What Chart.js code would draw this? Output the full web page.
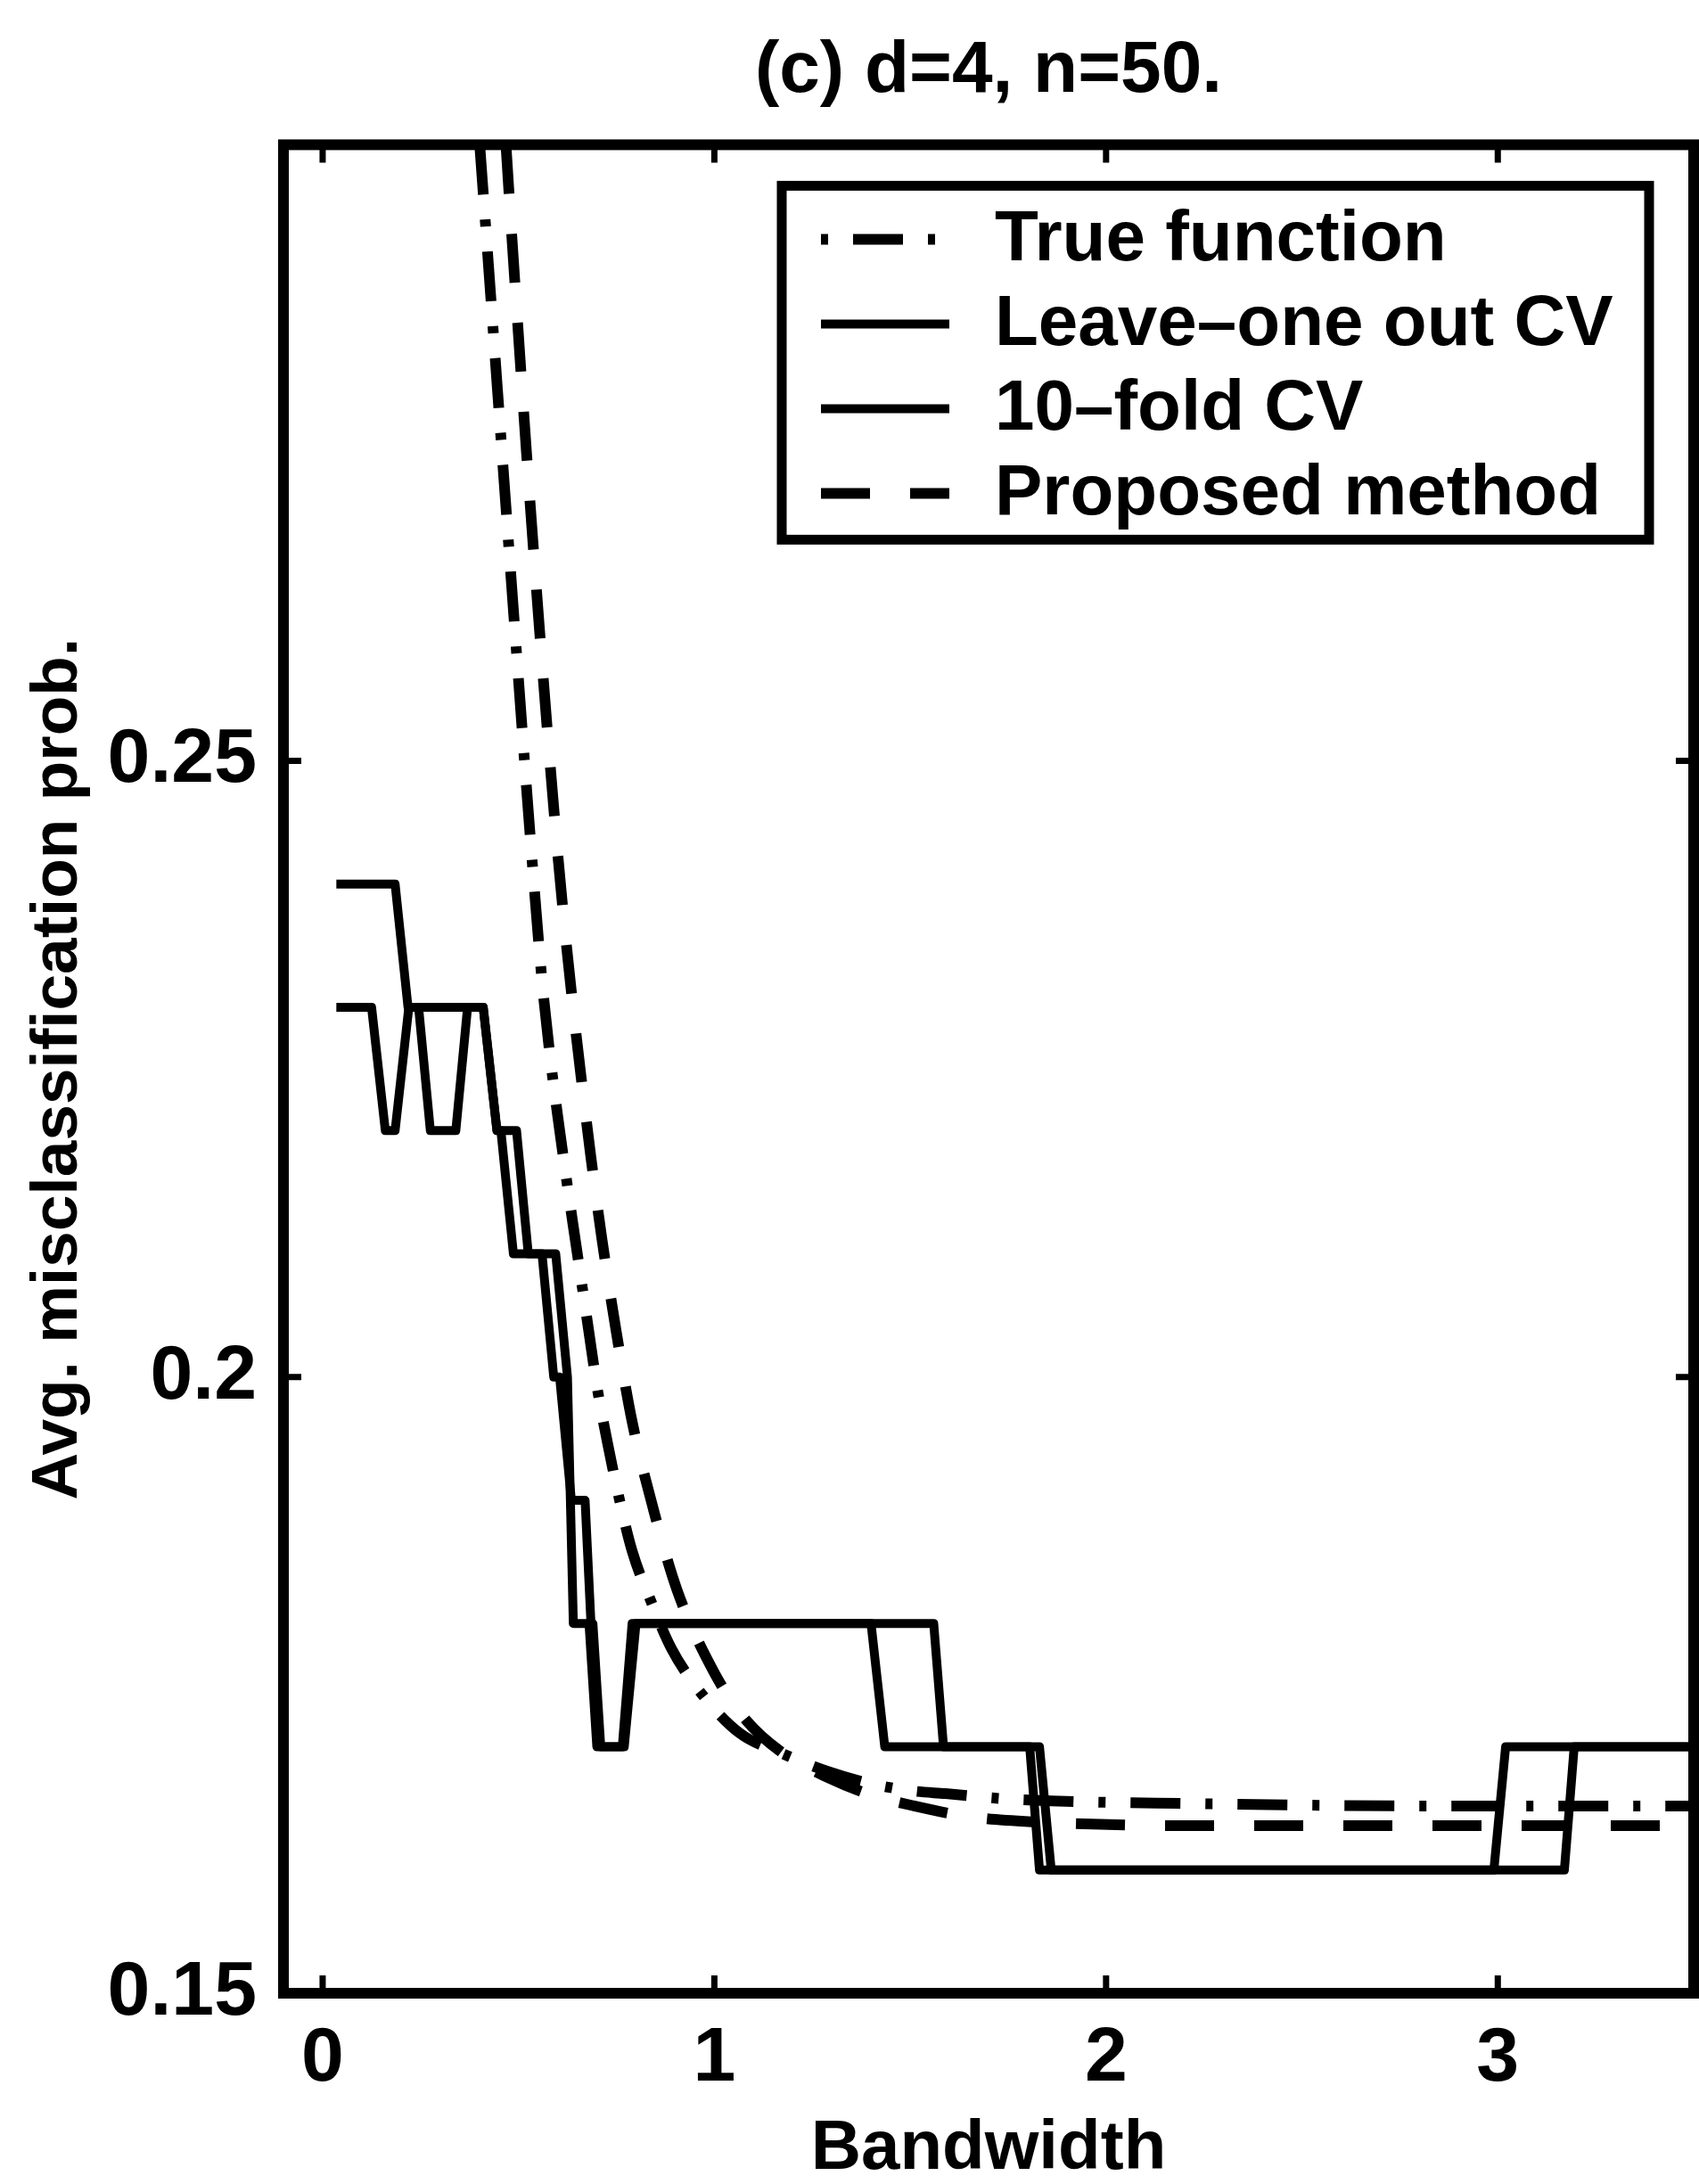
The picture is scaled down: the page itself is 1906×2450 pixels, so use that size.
<!DOCTYPE html>
<html>
<head>
<meta charset="utf-8">
<title>Avg. misclassification prob. vs bandwidth</title>
<script src="https://cdn.jsdelivr.net/npm/chart.js@4.4.1/dist/chart.umd.min.js"></script>
<style>
  html, body { margin: 0; padding: 0; background: #fff; }
  canvas { display: block; }
</style>
</head>
<body>
<canvas id="bandwidth-chart" width="1906" height="2450"></canvas>
<script>
// true misclassification curve
const trueX = [0.401, 0.420, 0.440, 0.460, 0.480, 0.500, 0.520, 0.540, 0.560, 0.580, 0.600, 0.620, 0.640, 0.660, 0.680, 0.700, 0.727, 0.756, 0.790, 0.837, 0.890, 0.970, 1.065, 1.170, 1.290, 1.400, 1.510, 1.590, 1.730, 1.860, 2.200, 2.800, 3.500];
const trueY = [0.3000, 0.2917, 0.2829, 0.2741, 0.2653, 0.2566, 0.2480, 0.2398, 0.2322, 0.2262, 0.2212, 0.2166, 0.2122, 0.2079, 0.2036, 0.1993, 0.1947, 0.1903, 0.1859, 0.1819, 0.1780, 0.1742, 0.1711, 0.1695, 0.1680, 0.1670, 0.1664, 0.1662, 0.1658, 0.1656, 0.1654, 0.1652, 0.1652];

// leave-one-out CV (corners of the step curve)
const looX = [0.035, 0.185, 0.218, 0.410, 0.445, 0.455, 0.487, 0.560, 0.590, 0.605, 0.635, 0.670, 0.685, 0.690, 0.710, 0.765, 0.790, 1.560, 1.585, 1.830, 1.860, 3.170, 3.195, 3.500];
const looY = [0.24, 0.24, 0.23, 0.23, 0.22, 0.22, 0.21, 0.21, 0.20, 0.20, 0.19, 0.19, 0.18, 0.18, 0.17, 0.17, 0.18, 0.18, 0.17, 0.17, 0.16, 0.16, 0.17, 0.17];

// 10-fold CV
const tenFoldX = [0.035, 0.125, 0.160, 0.185, 0.220, 0.245, 0.275, 0.340, 0.370, 0.410, 0.445, 0.495, 0.525, 0.595, 0.625, 0.640, 0.680, 0.700, 0.770, 0.800, 1.400, 1.435, 1.805, 1.830, 2.990, 3.020, 3.500];
const tenFoldY = [0.23, 0.23, 0.22, 0.22, 0.23, 0.23, 0.22, 0.22, 0.23, 0.23, 0.22, 0.22, 0.21, 0.21, 0.20, 0.18, 0.18, 0.17, 0.17, 0.18, 0.18, 0.17, 0.17, 0.16, 0.16, 0.17, 0.17];

// proposed method
const proposedX = [0.468, 0.480, 0.500, 0.520, 0.540, 0.560, 0.580, 0.600, 0.620, 0.640, 0.660, 0.685, 0.713, 0.750, 0.790, 0.845, 0.905, 1.000, 1.080, 1.170, 1.290, 1.400, 1.510, 1.657, 1.820, 2.200, 2.800, 3.500];
const proposedY = [0.3000, 0.2940, 0.2845, 0.2752, 0.2664, 0.2580, 0.2500, 0.2425, 0.2358, 0.2298, 0.2243, 0.2178, 0.2112, 0.2036, 0.1964, 0.1892, 0.1827, 0.1760, 0.1722, 0.1696, 0.1675, 0.1661, 0.1652, 0.1643, 0.1639, 0.1636, 0.1636, 0.1636];

const seriesLabels = ['True function', 'Leave\u2013one out CV', '10\u2013fold CV', 'Proposed method'];
const xTicks = [0, 1, 2, 3];
const yTicks = [0.15, 0.2, 0.25];

const toPoints = (xs, ys) => xs.map((x, i) => ({ x: x, y: ys[i] }));

const FONT = '"Liberation Sans", Arial, Helvetica, sans-serif';
Chart.defaults.font.family = FONT;
Chart.defaults.color = '#000';

// box frame with inward ticks on all four sides
const frameTicks = {
  id: 'frameTicks',
  afterDatasetsDraw(chart) {
    const { ctx, chartArea: a, scales: { x, y } } = chart;
    const len = 20;
    ctx.save();
    ctx.strokeStyle = '#000';
    ctx.lineWidth = 7;
    ctx.beginPath();
    xTicks.forEach(v => {
      const px = x.getPixelForValue(v);
      ctx.moveTo(px, a.bottom); ctx.lineTo(px, a.bottom - len);
      ctx.moveTo(px, a.top); ctx.lineTo(px, a.top + len);
    });
    yTicks.forEach(v => {
      const py = y.getPixelForValue(v);
      ctx.moveTo(a.left, py); ctx.lineTo(a.left + len, py);
      ctx.moveTo(a.right, py); ctx.lineTo(a.right - len, py);
    });
    ctx.stroke();
    ctx.lineWidth = 12;
    ctx.strokeRect(a.left, a.top, a.right - a.left, a.bottom - a.top);
    ctx.restore();
  }
};

// legend drawn in a framed box inside the top-right of the axes
const boxLegend = {
  id: 'boxLegend',
  afterDraw(chart, args, opts) {
    const { ctx, chartArea: a } = chart;
    const w = 973, h = 397, rowGap = 95;
    const left = a.right - 50 - w;
    const top = a.top + 46;
    ctx.save();
    ctx.fillStyle = '#fff';
    ctx.fillRect(left, top, w, h);
    ctx.strokeStyle = '#000';
    ctx.lineWidth = 11;
    ctx.strokeRect(left, top, w, h);
    ctx.font = 'bold 80px ' + FONT;
    ctx.textBaseline = 'middle';
    ctx.textAlign = 'left';
    ctx.fillStyle = '#000';
    chart.data.datasets.forEach((ds, i) => {
      const yy = top + 60 + i * rowGap;
      ctx.lineWidth = ds.borderWidth;
      ctx.setLineDash(ds.borderDash || []);
      ctx.lineDashOffset = opts.dashOffsets[i] || 0;
      ctx.beginPath();
      ctx.moveTo(left + 44, yy);
      ctx.lineTo(left + 188, yy);
      ctx.stroke();
      ctx.setLineDash([]);
      ctx.fillText(ds.label, left + 239, yy + 2);
    });
    ctx.restore();
  }
};

const line = (label, pts, width, dash, smooth) => ({
  label: label,
  data: pts,
  borderColor: '#000',
  borderWidth: width,
  borderDash: dash,
  borderJoinStyle: 'round',
  pointRadius: 0,
  fill: false,
  tension: 0,
  cubicInterpolationMode: smooth ? 'monotone' : 'default'
});

new Chart(document.getElementById('bandwidth-chart'), {
  type: 'line',
  data: {
    datasets: [
      line(seriesLabels[0], toPoints(trueX, trueY), 12, [56, 28, 8, 28], true),
      line(seriesLabels[1], toPoints(looX, looY), 10, [], false),
      line(seriesLabels[2], toPoints(tenFoldX, tenFoldY), 10, [], false),
      line(seriesLabels[3], toPoints(proposedX, proposedY), 12, [55, 45], true)
    ]
  },
  options: {
    responsive: false,
    animation: false,
    devicePixelRatio: 1,
    layout: { padding: { top: 0, right: 6, bottom: 0, left: 0 } },
    plugins: {
      legend: { display: false },
      tooltip: { enabled: false },
      title: {
        display: true,
        text: '(c) d=4, n=50.',
        fullSize: false,
        color: '#000',
        font: { size: 82, weight: 'bold' },
        padding: { top: 31, bottom: 33 }
      },
      boxLegend: { dashOffsets: [84, 0, 0, 0] }
    },
    scales: {
      x: {
        type: 'linear',
        min: -0.1,
        max: 3.5,
        grid: { display: false, drawTicks: false },
        border: { display: false },
        afterBuildTicks: s => { s.ticks = xTicks.map(v => ({ value: v })); },
        afterFit: s => { s.height = 214; },
        ticks: {
          autoSkip: false,
          maxRotation: 0,
          padding: 23,
          font: { size: 86, weight: 'bold' },
          callback: v => String(v)
        },
        title: {
          display: true,
          text: 'Bandwidth',
          font: { size: 78, weight: 'bold', lineHeight: 1 },
          padding: 0
        }
      },
      y: {
        type: 'linear',
        min: 0.15,
        max: 0.30,
        grid: { display: false, drawTicks: false },
        border: { display: false },
        afterBuildTicks: s => { s.ticks = yTicks.map(v => ({ value: v })); },
        afterFit: s => { s.width = 318; },
        ticks: {
          autoSkip: false,
          padding: 30,
          font: { size: 86, weight: 'bold' },
          callback: v => String(v)
        },
        title: {
          display: true,
          text: 'Avg. misclassification prob.',
          font: { size: 73, weight: 'bold' },
          padding: { top: 22, bottom: 0 }
        }
      }
    }
  },
  plugins: [frameTicks, boxLegend]
});
</script>
</body>
</html>
